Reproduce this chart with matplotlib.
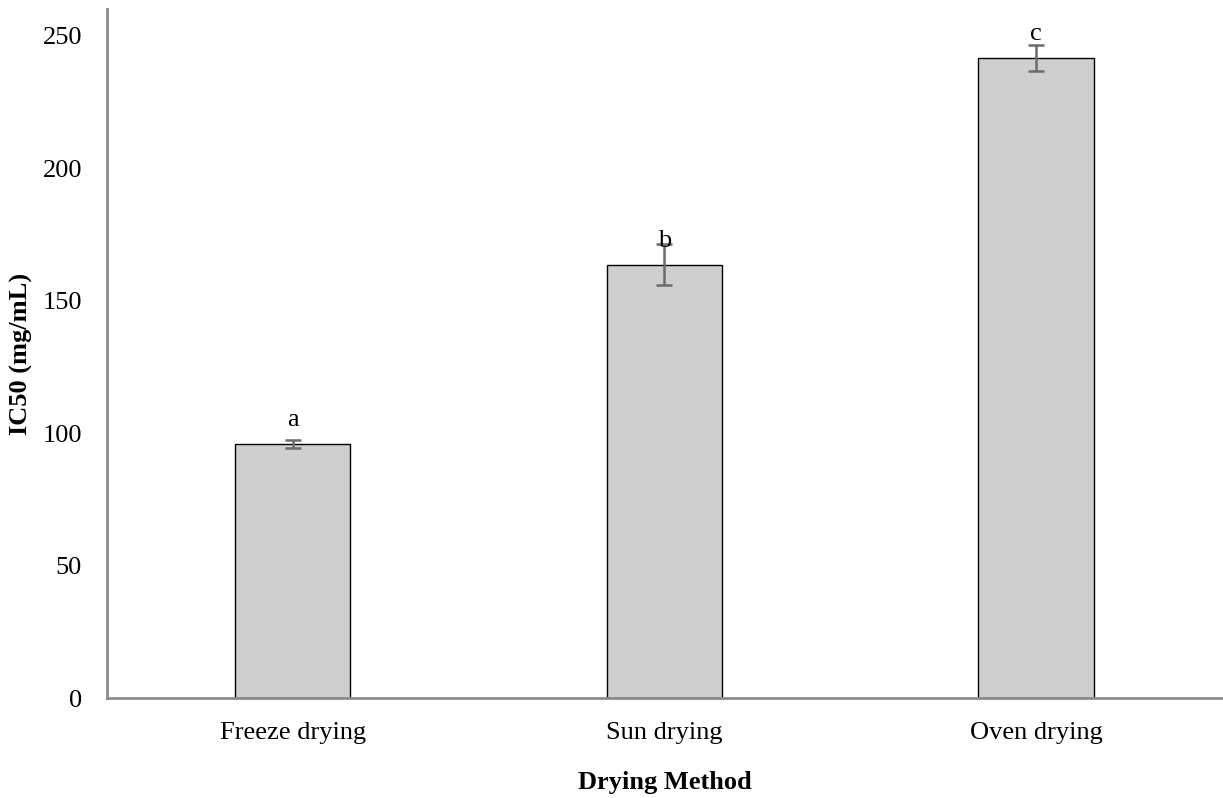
import numpy as np
import matplotlib
matplotlib.use("Agg")
import matplotlib.pyplot as plt

plt.rcParams['font.family'] = ['Liberation Serif', 'DejaVu Serif']

methods = ["Freeze drying", "Sun drying", "Oven drying"]
ic50 = [96.0, 163.5, 241.5]
ic50_err = [1.5, 7.8, 5.0]
groups = ["a", "b", "c"]

fig = plt.figure(figsize=(12.23, 7.98), dpi=100)
ax = fig.add_axes([0.0875, 0.1253, 0.9115, 0.8634])

x = np.arange(len(methods))
ax.bar(x, ic50, width=0.31, color="#d0cece", edgecolor="black", linewidth=1.0, zorder=2)
ax.errorbar(x, ic50, yerr=ic50_err, fmt="none", ecolor="#6b6b6b",
            elinewidth=1.8, capsize=6, capthick=1.8, zorder=3)

# significance letters sit a fixed distance above each bar top
for xi, val, g in zip(x, ic50, groups):
    ax.annotate(g, (xi, val), xytext=(0, 17), textcoords="offset points",
                ha="center", va="center", fontsize=19)

ax.set_xlim(-0.5, 2.5)
ax.set_ylim(0, 260)
ax.set_yticks([0, 50, 100, 150, 200, 250])
ax.set_xticks(x)
ax.set_xticklabels(methods)
ax.tick_params(axis="both", length=0, labelsize=19)
ax.tick_params(axis="y", pad=18)
ax.tick_params(axis="x", pad=17)

for side in ["top", "right"]:
    ax.spines[side].set_visible(False)
for side in ["left", "bottom"]:
    ax.spines[side].set_color("#8c8c8c")
    ax.spines[side].set_linewidth(2)

ax.set_xlabel("Drying Method", fontsize=19, fontweight="bold")
ax.set_ylabel("IC50 (mg/mL)", fontsize=19, fontweight="bold")
ax.xaxis.set_label_coords(0.5, -0.106)
ax.yaxis.set_label_coords(-0.066, 0.5)

fig.savefig("out.png", dpi=100)
